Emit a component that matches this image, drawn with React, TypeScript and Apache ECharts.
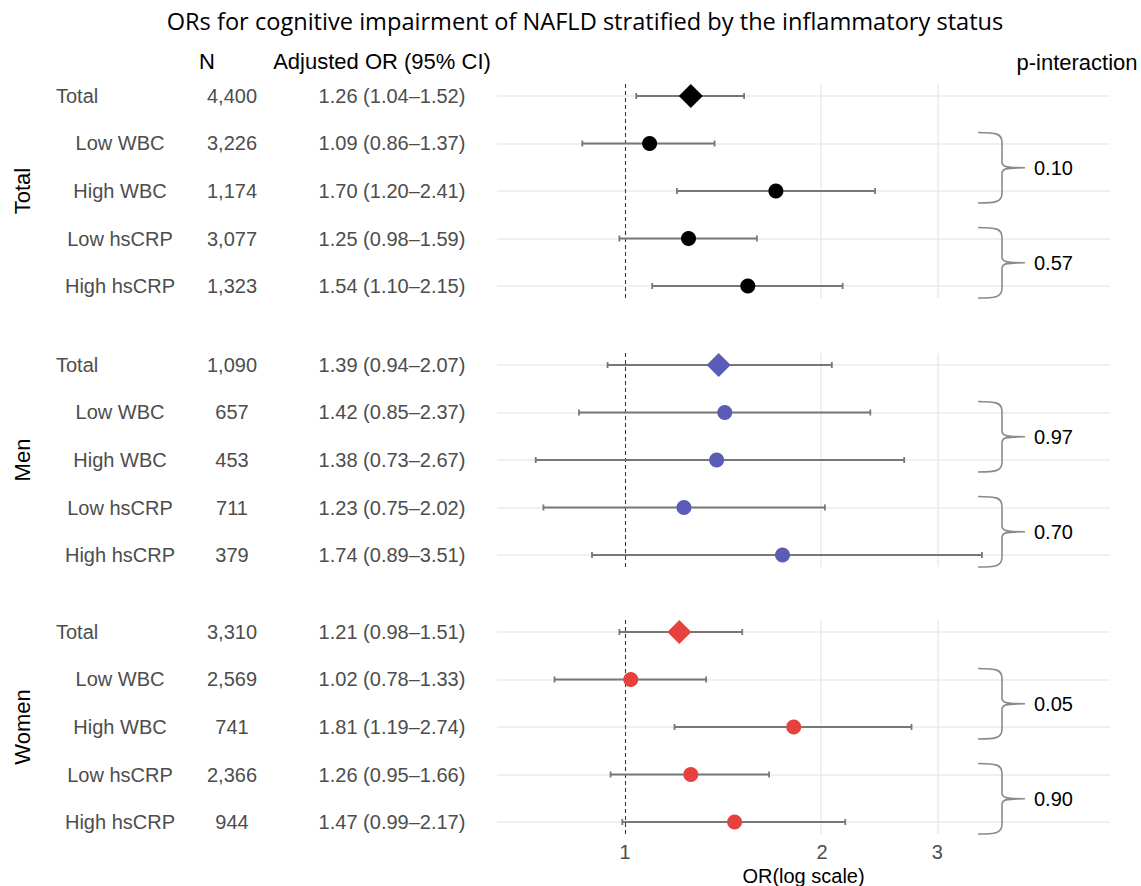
import { useEffect, useRef } from "react";
import * as echarts from "echarts";

const groups = ["Total", "Men", "Women"];
const subgroups = ["Total", "Low WBC", "High WBC", "Low hsCRP", "High hsCRP"];

const nTotal = ["4,400", "3,226", "1,174", "3,077", "1,323"];
const nMen = ["1,090", "657", "453", "711", "379"];
const nWomen = ["3,310", "2,569", "741", "2,366", "944"];

const orTotal = [1.26, 1.09, 1.7, 1.25, 1.54];
const loTotal = [1.04, 0.86, 1.2, 0.98, 1.1];
const hiTotal = [1.52, 1.37, 2.41, 1.59, 2.15];

const orMen = [1.39, 1.42, 1.38, 1.23, 1.74];
const loMen = [0.94, 0.85, 0.73, 0.75, 0.89];
const hiMen = [2.07, 2.37, 2.67, 2.02, 3.51];

const orWomen = [1.21, 1.02, 1.81, 1.26, 1.47];
const loWomen = [0.98, 0.78, 1.19, 0.95, 0.99];
const hiWomen = [1.51, 1.33, 2.74, 1.66, 2.17];

const pTotal = ["0.10", "0.57"];
const pMen = ["0.97", "0.70"];
const pWomen = ["0.05", "0.90"];

const xTicks = [1, 2, 3];
const pointColors = ["#000000", "#5B5BB8", "#E6413F"];

const panels = [
  { n: nTotal, or: orTotal, lo: loTotal, hi: hiTotal, p: pTotal },
  { n: nMen, or: orMen, lo: loMen, hi: hiMen, p: pMen },
  { n: nWomen, or: orWomen, lo: loWomen, hi: hiWomen, p: pWomen },
];

const FONT = "Liberation Sans, Arial, Helvetica, sans-serif";
const TEXT_GREY = "#4D4D4D";

export default function App() {
  const ref = useRef<HTMLDivElement>(null);

  useEffect(() => {
    document.body.style.margin = "0";
    const chart = echarts.init(ref.current!, null, { renderer: "svg" });

    const xMin = Math.log(0.637);
    const xMax = Math.log(5.51);
    const panelTops = [84, 353, 620];
    const panelH = 214;
    const yMin = -0.2526;
    const yMax = 4.2526;

    const grid: any[] = [];
    const xAxis: any[] = [];
    const yAxis: any[] = [];
    const series: any[] = [];
    const graphic: any[] = [];

    panels.forEach((pd, i) => {
      const fg = 2 * i;
      const tg = 2 * i + 1;
      grid.push({ left: 497, right: 31, top: panelTops[i], height: panelH, containLabel: false, outerBoundsMode: "none" });
      grid.push({ left: 0, width: 497, top: panelTops[i], height: panelH, containLabel: false, outerBoundsMode: "none" });
      xAxis.push({
        type: "value",
        gridIndex: fg,
        min: xMin,
        max: xMax,
        show: i === 2,
        splitLine: { show: false },
        axisLine: { show: false },
        axisTick: { show: false },
        axisLabel: {
          customValues: xTicks.map((t) => Math.log(t)),
          formatter: (v: number) => String(Math.round(Math.exp(v))),
          color: TEXT_GREY,
          fontSize: 20,
          fontFamily: FONT,
          margin: 8,
        },
        name: i === 2 ? "OR(log scale)" : "",
        nameLocation: "middle",
        nameGap: 32,
        nameTextStyle: { color: "#000", fontSize: 20, fontFamily: FONT },
      });
      xAxis.push({ type: "value", gridIndex: tg, min: 0, max: 497, show: false });
      yAxis.push({ type: "value", gridIndex: fg, min: yMin, max: yMax, inverse: true, show: false });
      yAxis.push({ type: "value", gridIndex: tg, min: yMin, max: yMax, inverse: true, show: false });

      // grid lines
      series.push({
        type: "line",
        xAxisIndex: fg,
        yAxisIndex: fg,
        data: [],
        silent: true,
        z: 1,
        markLine: {
          z: 1,
          silent: true,
          symbol: ["none", "none"],
          label: { show: false },
          lineStyle: { color: "#EBEBEB", width: 1.6, type: "solid" },
          data: [
            ...subgroups.map((_, k) => ({ yAxis: k })),
            ...xTicks.slice(1).map((t) => ({ xAxis: Math.log(t) })),
          ],
        },
      });
      // reference dashed line at OR = 1
      series.push({
        type: "line",
        xAxisIndex: fg,
        yAxisIndex: fg,
        data: [],
        silent: true,
        z: 2,
        markLine: {
          z: 2,
          silent: true,
          symbol: ["none", "none"],
          label: { show: false },
          lineStyle: { color: "#3A3A3A", width: 1.1, type: [4, 3] },
          data: [{ xAxis: 0 }],
        },
      });
      // error bars
      series.push({
        type: "custom",
        xAxisIndex: fg,
        yAxisIndex: fg,
        z: 3,
        silent: true,
        data: pd.lo.map((l, k) => [Math.log(l), Math.log(pd.hi[k]), k]),
        encode: { x: [0, 1], y: 2 },
        renderItem: (_params: any, api: any) => {
          const a = api.coord([api.value(0), api.value(2)]);
          const b = api.coord([api.value(1), api.value(2)]);
          const y = a[1];
          const h = 3;
          const st = { stroke: "#777777", lineWidth: 2, fill: null, opacity: 1 };
          const cap = { stroke: "#777777", lineWidth: 1.8, fill: null, opacity: 1 };
          return {
            type: "group",
            children: [
              { type: "line", shape: { x1: a[0], y1: y, x2: b[0], y2: y }, style: st },
              { type: "line", shape: { x1: a[0], y1: y - h, x2: a[0], y2: y + h }, style: cap },
              { type: "line", shape: { x1: b[0], y1: y - h, x2: b[0], y2: y + h }, style: cap },
            ],
          };
        },
      });
      // points
      series.push({
        type: "scatter",
        xAxisIndex: fg,
        yAxisIndex: fg,
        z: 4,
        silent: true,
        data: pd.or.map((o, k) => ({
          value: [Math.log(o), k],
          symbol: k === 0 ? "diamond" : "circle",
          symbolSize: k === 0 ? 24 : 15,
        })),
        itemStyle: { color: pointColors[i], opacity: 1 },
      });
      // braces with p-interaction
      series.push({
        type: "custom",
        xAxisIndex: fg,
        yAxisIndex: fg,
        z: 5,
        silent: true,
        data: [
          [1, 2],
          [3, 4],
        ],
        encode: { y: [0, 1] },
        renderItem: (params: any, api: any) => {
          const y1 = api.coord([0, api.value(0)])[1];
          const y2 = api.coord([0, api.value(1)])[1];
          const cs = params.coordSys;
          const right = cs.x + cs.width;
          const x0 = right - 132;
          const xv = x0 + 24;
          const xt = x0 + 47;
          const yt = y1 - 11;
          const yb = y2 + 12;
          const ym = (yt + yb) / 2;
          const d =
            `M${x0} ${yt} C${x0 + 18} ${yt} ${xv} ${yt + 1} ${xv} ${yt + 10} ` +
            `L${xv} ${ym - 6} C${xv} ${ym - 1} ${xv + 3} ${ym} ${xt} ${ym} ` +
            `M${xt} ${ym} C${xv + 3} ${ym} ${xv} ${ym + 1} ${xv} ${ym + 6} ` +
            `L${xv} ${yb - 10} C${xv} ${yb - 1} ${x0 + 18} ${yb} ${x0} ${yb}`;
          return {
            type: "group",
            children: [
              {
                type: "path",
                shape: { pathData: d },
                style: { fill: "none", stroke: "#8A8A8A", lineWidth: 1.6 },
              },
              {
                type: "text",
                x: xt + 9,
                y: ym,
                style: {
                  text: pd.p[params.dataIndex],
                  fill: "#000",
                  fontSize: 20,
                  fontFamily: FONT,
                  textAlign: "left",
                  align: "left",
                  textVerticalAlign: "middle",
                  verticalAlign: "middle",
                },
              },
            ],
          };
        },
      });
      // table text
      series.push({
        type: "custom",
        xAxisIndex: tg,
        yAxisIndex: tg,
        silent: true,
        data: subgroups.map((_, k) => [0, k]),
        encode: { x: 0, y: 1 },
        renderItem: (_params: any, api: any) => {
          const k = api.value(1);
          const y = api.coord([0, k])[1];
          const txt = (s: string, x: number, al: string) => ({
            type: "text",
            x,
            y,
            style: {
              text: s,
              fill: TEXT_GREY,
              fontSize: 20,
              fontFamily: FONT,
              textAlign: al,
              align: al,
              textVerticalAlign: "middle",
              verticalAlign: "middle",
            },
          });
          const orText = `${pd.or[k].toFixed(2)} (${pd.lo[k].toFixed(2)}–${pd.hi[k].toFixed(2)})`;
          return {
            type: "group",
            children: [
              k === 0 ? txt(subgroups[k], 56, "left") : txt(subgroups[k], 120, "center"),
              txt(pd.n[k], 232, "center"),
              txt(orText, 392, "center"),
            ],
          };
        },
      });

      graphic.push({
        type: "text",
        x: 22,
        y: panelTops[i] + panelH / 2,
        rotation: Math.PI / 2,
        style: {
          text: groups[i],
          fill: "#000",
          fontSize: 22,
          fontFamily: FONT,
          textAlign: "center",
          align: "center",
          textVerticalAlign: "middle",
          verticalAlign: "middle",
        },
      });
    });

    const header = (s: string, x: number, y: number, size: number, family: string) => ({
      type: "text",
      x,
      y,
      style: {
        text: s,
        fill: "#000",
        fontSize: size,
        fontFamily: family,
        textAlign: "center",
        align: "center",
        textVerticalAlign: "middle",
        verticalAlign: "middle",
      },
    });
    graphic.push(
      header("ORs for cognitive impairment of NAFLD stratified by the inflammatory status", 585, 21, 23.6, "Open Sans, Noto Sans, sans-serif")
    );
    graphic.push(header("N", 207, 61, 22, FONT));
    graphic.push(header("Adjusted OR (95% CI)", 382, 61, 22, FONT));
    graphic.push(header("p-interaction", 1077, 62, 22, FONT));

    chart.setOption({
      animation: false,
      backgroundColor: "#FFFFFF",
      grid,
      xAxis,
      yAxis,
      series,
      graphic,
    });

    return () => chart.dispose();
  }, []);

  return <div ref={ref} style={{ width: 1141, height: 886 }} />;
}
